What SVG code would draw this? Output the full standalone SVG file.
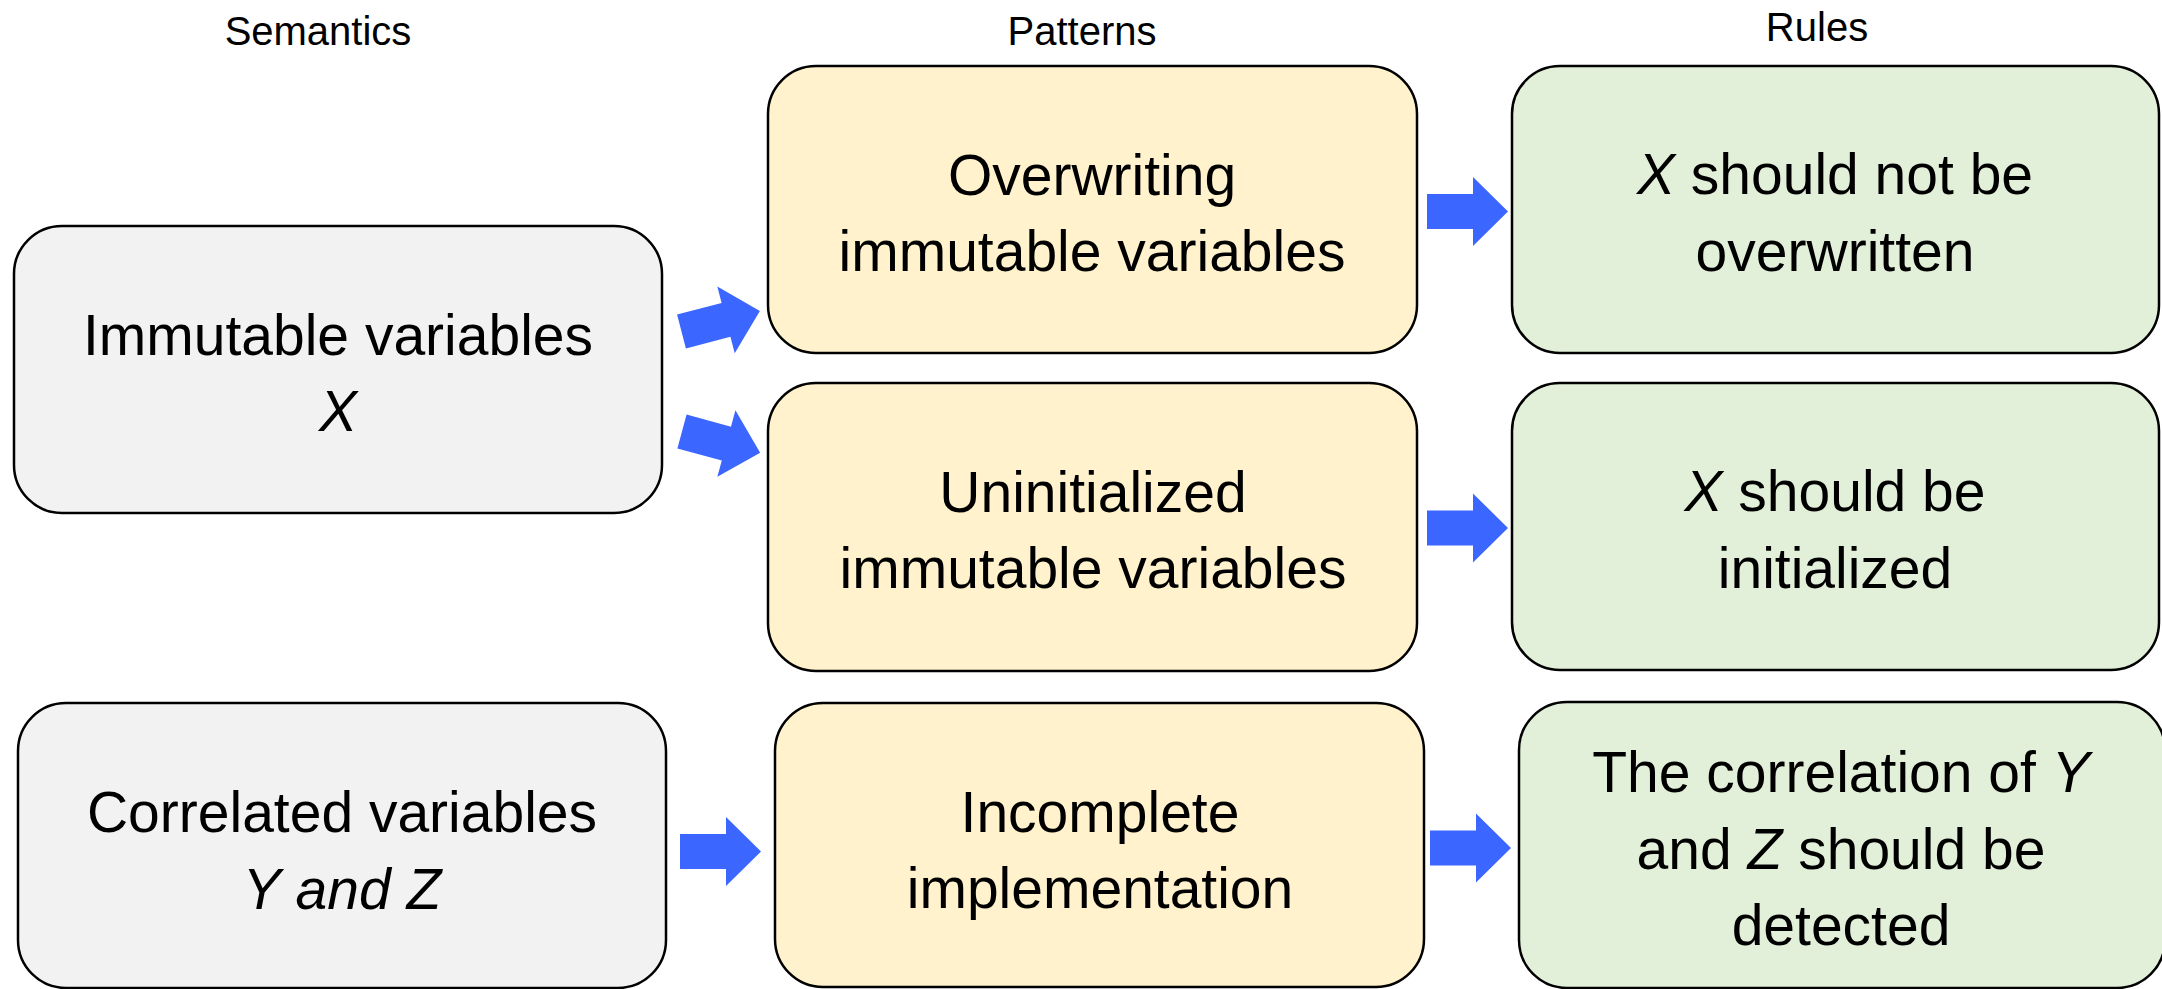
<svg xmlns="http://www.w3.org/2000/svg" width="2162" height="989" viewBox="0 0 2162 989">
<style>
.box{stroke:#000;stroke-width:2.5}
.g{fill:#f2f2f2}
.y{fill:#fff2cc}
.gr{fill:#e2efd9}
text{font-family:"Liberation Sans",Arial,sans-serif;fill:#000;text-anchor:middle}
.hd{font-size:40px}
.t{font-size:57px}
.i{font-style:italic}
.arr{fill:#3b66ff}
</style>
<defs>
<path id="arrow" d="M0,-17.5 H46 V-34.5 L81,0 L46,34.5 V17.5 H0 Z"/>
</defs>
<rect width="2162" height="989" fill="#fff"/>
<g id="headers">
<text class="hd" x="318" y="45">Semantics</text>
<text class="hd" x="1082" y="45">Patterns</text>
<text class="hd" x="1817" y="41">Rules</text>
</g>
<g id="node-immutable">
<rect class="box g" x="14" y="226" width="648" height="287" rx="48" ry="48"/>
<text class="t" x="338" y="355">Immutable variables</text>
<text class="t i" x="338" y="431">X</text>
</g>
<g id="node-correlated">
<rect class="box g" x="18" y="703" width="648" height="285" rx="48" ry="48"/>
<text class="t" x="342" y="832">Correlated variables</text>
<text class="t i" x="342" y="909">Y and Z</text>
</g>
<g id="node-overwriting">
<rect class="box y" x="768" y="66" width="649" height="287" rx="48" ry="48"/>
<text class="t" x="1092" y="195">Overwriting</text>
<text class="t" x="1092" y="271">immutable variables</text>
</g>
<g id="node-uninitialized">
<rect class="box y" x="768" y="383" width="649" height="288" rx="48" ry="48"/>
<text class="t" x="1093" y="512">Uninitialized</text>
<text class="t" x="1093" y="588">immutable variables</text>
</g>
<g id="node-incomplete">
<rect class="box y" x="775" y="703" width="649" height="284" rx="48" ry="48"/>
<text class="t" x="1100" y="832">Incomplete</text>
<text class="t" x="1100" y="908">implementation</text>
</g>
<g id="node-rule-overwritten">
<rect class="box gr" x="1512" y="66" width="647" height="287" rx="48" ry="48"/>
<text class="t" x="1835" y="194"><tspan class="i">X</tspan> should not be</text>
<text class="t" x="1835" y="271">overwritten</text>
</g>
<g id="node-rule-initialized">
<rect class="box gr" x="1512" y="383" width="647" height="287" rx="48" ry="48"/>
<text class="t" x="1835" y="511"><tspan class="i">X</tspan> should be</text>
<text class="t" x="1835" y="588">initialized</text>
</g>
<g id="node-rule-correlation">
<rect class="box gr" x="1519" y="702" width="646" height="286" rx="48" ry="48"/>
<text class="t" x="1841" y="792">The correlation of <tspan class="i">Y</tspan></text>
<text class="t" x="1841" y="869">and <tspan class="i">Z</tspan> should be</text>
<text class="t" x="1841" y="945">detected</text>
</g>
<g id="connectors" class="arr">
<use href="#arrow" transform="translate(681.5,331.5) rotate(-14.6)"/>
<use href="#arrow" transform="translate(682,431.5) rotate(15.2)"/>
<use href="#arrow" transform="translate(680,851.5)"/>
<use href="#arrow" transform="translate(1427,211.5)"/>
<use href="#arrow" transform="translate(1427,528)"/>
<use href="#arrow" transform="translate(1430,848)"/>
</g>
</svg>
